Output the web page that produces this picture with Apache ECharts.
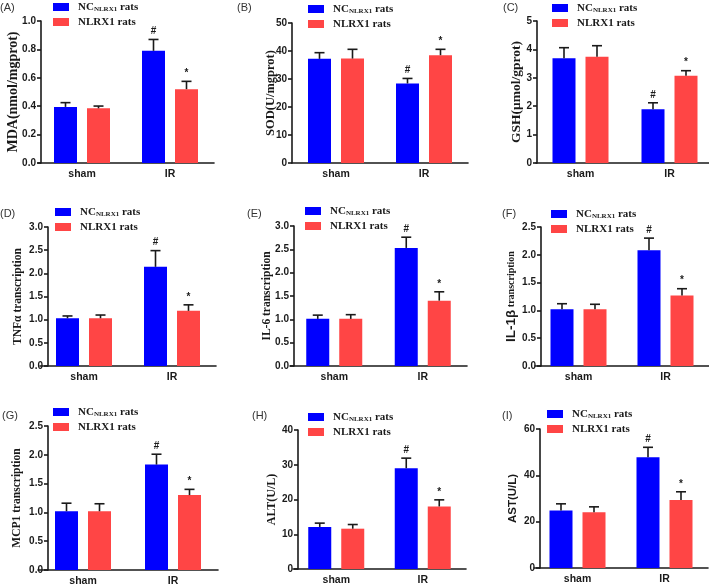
<!DOCTYPE html>
<html>
<head>
<meta charset="utf-8">
<script src="https://cdn.jsdelivr.net/npm/echarts@6/dist/echarts.min.js"></script>
<style>
  html, body { margin: 0; padding: 0; background: #fff; }
  #chart { width: 709px; height: 585px; }
</style>
</head>
<body>
<div id="chart"></div>
<script>
// data
var categories = ['sham', 'IR'];
var panelTags = ['(A)', '(B)', '(C)', '(D)', '(E)', '(F)', '(G)', '(H)', '(I)'];
var yNames = [
  'MDA(nmol/mgprot)', 'SOD(U/mgprot)', 'GSH(μmol/gprot)',
  'TNFα transcription', 'IL-6 transcription', '{a|IL-1β}{b| transcription}',
  'MCP1 transcription', 'ALT(U/L)', 'AST(U/L)'
];
var yMax = [1.0, 50, 5, 3.0, 3.0, 2.5, 2.5, 40, 60];
var yStep = [0.2, 10, 1, 0.5, 0.5, 0.5, 0.5, 10, 20];
var yDecimals = [1, 0, 0, 1, 1, 1, 1, 0, 0];

var ncMean = [[0.395, 0.79], [37.2, 28.4], [3.69, 1.89], [1.03, 2.14], [1.01, 2.53], [1.02, 2.08], [1.02, 1.83], [12.1, 29.0], [24.8, 47.8]];
var ncErr = [[0.03, 0.08], [2.2, 1.8], [0.37, 0.23], [0.05, 0.35], [0.08, 0.23], [0.10, 0.22], [0.14, 0.18], [1.1, 2.9], [2.9, 4.3]];
var nlMean = [[0.385, 0.52], [37.3, 38.5], [3.74, 3.07], [1.03, 1.19], [1.01, 1.40], [1.02, 1.27], [1.02, 1.30], [11.6, 18.0], [24.1, 29.4]];
var nlErr = [[0.016, 0.055], [3.3, 2.1], [0.39, 0.18], [0.07, 0.13], [0.09, 0.19], [0.09, 0.12], [0.13, 0.10], [1.2, 1.9], [2.3, 3.5]];
var ncMarks = ['', '#'];
var nlMarks = ['', '*'];

var NC_NAME = 'NC rats';
var NL_NAME = 'NLRX1 rats';
var BLUE = '#0000ff';
var RED = '#ff4545';
var BAR_W = 23;
var BAR_GAP = 10;

// panel placement in the 709x585 picture
var layout = [
  { l: 38, t: 21, w: 176, h: 142, off: -3, gap: 21, fs: 14, lgL: 53, lgT: 1, tx: 0, ty: 2, font: 'serif' },
  { l: 292, t: 23, w: 176, h: 140, off: 0, gap: 15, fs: 12.5, lgL: 308, lgT: 3, tx: 237, ty: 2, font: 'serif' },
  { l: 536, t: 21, w: 178, h: 142, off: -1, gap: 13, fs: 13.5, lgL: 552, lgT: 2, tx: 503, ty: 2, font: 'serif' },
  { l: 40, t: 227, w: 176, h: 139, off: -8, gap: 24, fs: 11.5, lgL: 55, lgT: 206, tx: 0, ty: 208, font: 'serif' },
  { l: 290, t: 226, w: 177, h: 140, off: -4, gap: 21, fs: 11.5, lgL: 305, lgT: 205, tx: 247, ty: 208, font: 'serif' },
  { l: 535, t: 227, w: 174, h: 139, off: -6, gap: 23, fs: 10, lgL: 551, lgT: 208, tx: 502, ty: 208, font: 'serif' },
  { l: 38, t: 426, w: 180, h: 144, off: -10, gap: 25, fs: 11.5, lgL: 53, lgT: 406, tx: 2, ty: 410, font: 'serif' },
  { l: 293, t: 430, w: 173, h: 139, off: -5, gap: 20, fs: 12, lgL: 308, lgT: 411, tx: 252, ty: 410, font: 'serif' },
  { l: 534, t: 429, w: 174, h: 139, off: -6, gap: 21, fs: 11.5, lgL: 547, lgT: 408, tx: 502, ty: 410, font: 'sans' }
];

var SANS = '"Liberation Sans", Arial, sans-serif';
var SERIF = '"Liberation Serif", "Times New Roman", serif';

var grids = [], xAxes = [], yAxes = [], series = [], legends = [], graphics = [];

function errorSeries(idx, means, errs, marks, shift) {
  return {
    type: 'custom',
    name: 'err' + idx + shift,
    xAxisIndex: idx,
    yAxisIndex: idx,
    z: 5,
    silent: true,
    data: categories.map(function (c, i) { return [i, means[i], errs[i]]; }),
    encode: { x: 0, y: 1 },
    renderItem: function (params, api) {
      var base = api.coord([api.value(0), api.value(1)]);
      var top = api.coord([api.value(0), api.value(1) + api.value(2)]);
      var x = base[0] + shift;
      var st = { stroke: '#1a1a1a', lineWidth: 1.6 };
      var kids = [
        { type: 'line', shape: { x1: x, y1: base[1], x2: x, y2: top[1] }, style: st },
        { type: 'line', shape: { x1: x - 5, y1: top[1], x2: x + 5, y2: top[1] }, style: st }
      ];
      var m = marks[params.dataIndex];
      if (m) {
        kids.push({
          type: 'text',
          style: {
            text: m, x: x, y: top[1] - 3,
            align: 'center', verticalAlign: 'bottom',
            font: 'bold 10px ' + SANS, fill: '#1a1a1a'
          }
        });
      }
      return { type: 'group', children: kids };
    }
  };
}

layout.forEach(function (p, i) {
  grids.push({ left: p.l, top: p.t, width: p.w, height: p.h, outerBoundsMode: 'none' });

  xAxes.push({
    type: 'category',
    gridIndex: i,
    data: categories,
    axisLine: { lineStyle: { color: '#1a1a1a', width: 1.6 } },
    axisTick: { alignWithLabel: true, length: 4, lineStyle: { color: '#1a1a1a', width: 1.6 } },
    axisLabel: { color: '#1a1a1a', fontFamily: SANS, fontWeight: 'bold', fontSize: 10.5, margin: 6 }
  });

  var dec = yDecimals[i];
  yAxes.push({
    type: 'value',
    gridIndex: i,
    min: 0,
    max: yMax[i],
    interval: yStep[i],
    offset: p.off,
    name: yNames[i],
    nameLocation: 'middle',
    nameGap: p.gap,
    nameMoveOverlap: false,
    nameTextStyle: {
      color: '#1a1a1a',
      fontFamily: p.font === 'serif' ? SERIF : SANS,
      fontWeight: 'bold',
      fontSize: p.fs,
      rich: {
        a: { fontFamily: SANS, fontWeight: 'bold', fontSize: 13.5, color: '#1a1a1a' },
        b: { fontFamily: SERIF, fontWeight: 'bold', fontSize: 10, color: '#1a1a1a' }
      }
    },
    splitLine: { show: false },
    axisLine: { show: true, lineStyle: { color: '#1a1a1a', width: 1.6 } },
    axisTick: { show: true, length: 4, lineStyle: { color: '#1a1a1a', width: 1.6 } },
    axisLabel: {
      color: '#1a1a1a', fontFamily: SANS, fontWeight: 'bold', fontSize: 10, margin: 5,
      formatter: function (v) { return v.toFixed(dec); }
    }
  });

  series.push({
    type: 'bar', name: NC_NAME, xAxisIndex: i, yAxisIndex: i,
    data: ncMean[i], barWidth: BAR_W, barGap: (BAR_GAP / BAR_W * 100) + '%',
    itemStyle: { color: BLUE }, silent: true
  });
  series.push({
    type: 'bar', name: NL_NAME, xAxisIndex: i, yAxisIndex: i,
    data: nlMean[i], barWidth: BAR_W, barGap: (BAR_GAP / BAR_W * 100) + '%',
    itemStyle: { color: RED }, silent: true
  });
  var shift = (BAR_W + BAR_GAP) / 2;
  series.push(errorSeries(i, ncMean[i], ncErr[i], ncMarks, -shift));
  series.push(errorSeries(i, nlMean[i], nlErr[i], nlMarks, shift));

  legends.push({
    data: [NC_NAME, NL_NAME],
    orient: 'vertical',
    left: p.lgL,
    top: p.lgT,
    padding: 0,
    itemGap: 3,
    itemWidth: 16,
    itemHeight: 8,
    icon: 'rect',
    selectedMode: false,
    formatter: function (name) {
      return name === NC_NAME ? '{a|NC}{s|NLRX1}{c| rats}' : '{a|NLRX1 rats}';
    },
    textStyle: {
      lineHeight: 12,
      rich: {
        a: { fontFamily: SERIF, fontWeight: 'bold', fontSize: 11, color: '#1a1a1a', padding: [0, 0, 0, 4], lineHeight: 12 },
        s: { fontFamily: SERIF, fontWeight: 'bold', fontSize: 7, color: '#1a1a1a', verticalAlign: 'bottom', lineHeight: 12, padding: [3, 0, 0, 0] },
        c: { fontFamily: SERIF, fontWeight: 'bold', fontSize: 11, color: '#1a1a1a', lineHeight: 12 }
      }
    }
  });

  graphics.push({
    type: 'text',
    left: p.tx,
    top: p.ty,
    style: { text: panelTags[i], font: '11px ' + SANS, fill: '#333' }
  });
});

var chart = echarts.init(document.getElementById('chart'), null, { renderer: 'canvas' });
chart.setOption({
  animation: false,
  backgroundColor: '#fff',
  grid: grids,
  xAxis: xAxes,
  yAxis: yAxes,
  legend: legends,
  graphic: graphics,
  series: series
});
</script>
</body>
</html>
